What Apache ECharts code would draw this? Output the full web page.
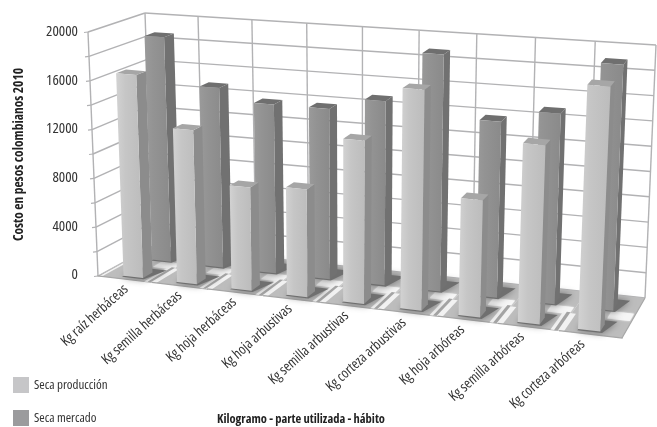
<!DOCTYPE html>
<html><head><meta charset="utf-8">
<style>html,body{margin:0;padding:0;background:#fff}#c{width:657px;height:427px;filter:blur(.4px)}</style>
<script src="https://cdn.jsdelivr.net/npm/echarts@6/dist/echarts.min.js"></script>
</head><body><div id="c"></div>
<script>
const categories = ['Kg raíz herbáceas','Kg semilla herbáceas','Kg hoja herbáceas','Kg hoja arbustivas','Kg semilla arbustivas','Kg corteza arbustivas','Kg hoja arbóreas','Kg semilla arbóreas','Kg corteza arbóreas'];
const secaProduccion = [16600,12500,8300,8600,12900,17300,9100,13800,18700];
const secaMercado = [18800,14900,13900,13900,14900,19000,14000,15000,19200];
const gridValues = [0,2000,4000,6000,8000,10000,12000,14000,16000,18000,20000];
const FONT = '"Open Sans","Roboto Condensed",sans-serif';
const STRETCH = 'condensed';

// perspective box: pixel corners of the 3D plot frame (layout, not data)
const BOX = {
  flb:[98,276], frb:[622,338], blb:[153,246], brb:[645,298],
  flt:[88,32],  frt:[634,74],  blt:[145,13],  brt:[656,45]
};
const PERSP = 1.08;
function mix(a,b,t){return [a[0]+(b[0]-a[0])*t,a[1]+(b[1]-a[1])*t];}
function box(U,v,W){
  const u = U/(U+PERSP*(1-U));
  const fb=mix(BOX.flb,BOX.frb,u), bb=mix(BOX.blb,BOX.brb,u);
  const ft=mix(BOX.flt,BOX.frt,u), bt=mix(BOX.blt,BOX.brt,u);
  return mix(mix(fb,bb,v),mix(ft,bt,v),W);
}
// screen position from the cartesian axes → position in the 3D frame
function project(api,params,px,py,v){
  const g=params.coordSys;
  return box((px-g.x)/g.width,v,(g.y+g.height-py)/g.height);
}
function poly(points,fill,extra){
  return Object.assign({type:'polygon',shape:{points},style:{fill},silent:true},extra||{});
}
function line(a,b,stroke,w){
  return {type:'line',shape:{x1:a[0],y1:a[1],x2:b[0],y2:b[1]},style:{stroke,lineWidth:w,fill:null},silent:true};
}
const LINE='#b2b2b4';
function renderWalls(params,api){
  const g=params.coordSys, val=api.value(0);
  const py=api.coord([0,val])[1], W=(g.y+g.height-py)/g.height;
  const kids=[];
  if(params.dataIndex===0){
    for(let k=0;k<=categories.length;k++){
      const U=k/categories.length;
      kids.push(line(box(U,1,0),box(U,1,1),LINE,1.4));
    }
    kids.push(line(box(0,0,0),box(0,0,1),LINE,1.4));
  }
  kids.push(line(box(0,0,W),box(0,1,W),LINE,1.4));
  kids.push(line(box(0,1,W),box(1,1,W),LINE,1.4));
  const a=box(0,0,W);
  kids.push(line([a[0]-4,a[1]+0.5],a,LINE,1.2));
  return {type:'group',children:kids};
}
function renderFloor(params,api){
  const i=api.value(0), g=params.coordSys;
  const c=api.coord([i,0]), band=api.size([1,0])[0];
  const P=(ci,v)=>project(api,params,c[0]+(ci-.5)*band,g.y+g.height,v);
  const lo=i===0?0:-.15, mid=i===0?0:-.09, mid2=i===0?.02:-.03;
  const kids=[
    poly([P(0,0),P(1,0),P(1,1),P(0,1)],'#bdbdbd'),
    poly([P(.6,.42),P(.97,.42),P(.97,.6),P(.6,.6)],'#f6f6f6',{style:{fill:'#f6f6f6',shadowBlur:2,shadowColor:'#fff'}}),
    poly([P(lo,0),P(.07,0),P(.07,.45),P(lo,.45)],'#f2f2f2'),
    poly([P(mid,0),P(mid2,0),P(mid2,.47),P(mid,.47)],'#a4a4a4'),
    line(P(-.01,0),P(1.01,0),'#a6a6a6',1.2)
  ];
  if(i===categories.length-1) kids.push(line(P(1,0),P(1,1),'#a6a6a6',1.2));
  return {type:'group',children:kids};
}
function barRenderer(v0,v1,cols){
  return function(params,api){
    const i=api.value(0), val=api.value(1), g=params.coordSys;
    const c=api.coord([i,val]), band=api.size([1,0])[0], base=g.y+g.height;
    const shift=(2.5-.9*i)/58;
    const c0=.34+shift,c1=.70+shift;
    const x0=c[0]+(c0-.5)*band, x1=c[0]+(c1-.5)*band, t=c[1];
    const P=(x,y,v)=>project(api,params,x,y,v);
    return {type:'group',children:[
      poly([P(x0,base,v0-.03),P(x1+.04*band,base,v0-.03),P(x1+.17*band,base,v1+.1),P(x0+.05*band,base,v1+.1)],'#6f6f6f',{style:{fill:'#6f6f6f',shadowBlur:7,shadowColor:'#707070'}}),
      poly([P(x1,base,v0),P(x1,base,v1),P(x1,t,v1),P(x1,t,v0)],cols.side),
      poly([P(x0,t,v0),P(x1,t,v0),P(x1,t,v1),P(x0,t,v1)],cols.top),
      poly([P(x0,base,v0),P(x1,base,v0),P(x1,t,v0),P(x0,t,v0)],new echarts.graphic.LinearGradient(0,0,1,0,[
        {offset:0,color:cols.edge},{offset:.35,color:cols.face},{offset:1,color:cols.face2}]))
    ]};
  };
}
function renderLabel(params,api){
  const i=api.value(0), g=params.coordSys;
  const c=api.coord([i,0]);
  const p=project(api,params,c[0],g.y+g.height,0);
  return {type:'text',silent:true,x:p[0]-i*1.1+1,y:p[1]+8,rotation:42*Math.PI/180,
    style:{text:categories[i],x:0,y:0,align:'right',verticalAlign:'middle',fill:'#333',fontStyle:STRETCH,fontSize:14.2,fontFamily:FONT}};
}
const idx = categories.map((_,i)=>i);
const chart = echarts.init(document.getElementById('c'),null,{renderer:'canvas'});
chart.setOption({
  animation:false,
  backgroundColor:'#fff',
  grid:{left:88,top:32,width:426,height:243,outerBoundsMode:'none'},
  legend:{orient:'vertical',left:8,top:372,height:60,itemWidth:16,itemHeight:16,itemGap:17,selectedMode:false,
    data:[{name:'Seca producción',icon:'rect'},{name:'Seca mercado',icon:'rect'}],
    textStyle:{fontFamily:FONT,fontStyle:STRETCH,fontSize:13,lineHeight:16,color:'#333'}},
  xAxis:{type:'category',data:categories,axisLine:{show:false},axisTick:{show:false},axisLabel:{show:false},splitLine:{show:false},
    name:'Kilogramo - parte utilizada - hábito',nameLocation:'middle',nameGap:138,
    nameTextStyle:{fontFamily:FONT,fontStyle:STRETCH,fontSize:12.5,fontWeight:'bold',color:'#222'}},
  yAxis:{type:'value',min:0,max:20000,interval:4000,axisLine:{show:false},axisTick:{show:false},splitLine:{show:false},
    axisLabel:{margin:10,fontFamily:FONT,fontStyle:STRETCH,fontSize:15,color:'#333',formatter:v=>String(v)},
    name:'Costo en pesos colombianos 2010',nameLocation:'middle',nameGap:62,nameRotate:90,
    nameTextStyle:{fontFamily:FONT,fontStyle:STRETCH,fontSize:13.5,fontWeight:'bold',color:'#222',padding:[0,2,0,0]}},
  series:[
    {type:'custom',name:'walls',z:1,silent:true,renderItem:renderWalls,data:gridValues.map(v=>[v]),encode:{y:0},clip:false},
    {type:'custom',name:'floor',z:2,silent:true,renderItem:renderFloor,data:idx.map(i=>[i]),encode:{x:0},clip:false},
    {type:'custom',name:'Seca mercado',z:3,silent:true,itemStyle:{color:'#9b9b9d'},
      renderItem:barRenderer(.62,.80,{edge:'#9a9a9a',face:'#939393',face2:'#8a8a8a',side:'#717171',top:'#6f6f6f'}),
      data:idx.map(i=>[i,secaMercado[i]]),encode:{x:0,y:1},clip:false},
    {type:'custom',name:'Seca producción',z:4,silent:true,itemStyle:{color:'#c6c6c8'},
      renderItem:barRenderer(.09,.27,{edge:'#d2d2d2',face:'#c6c6c6',face2:'#bcbcbc',side:'#8c8c8c',top:'#a6a6a6'}),
      data:idx.map(i=>[i,secaProduccion[i]]),encode:{x:0,y:1},clip:false},
    {type:'custom',name:'labels',z:5,silent:true,renderItem:renderLabel,data:idx.map(i=>[i]),encode:{x:0},clip:false}
  ]
});
</script></body></html>
